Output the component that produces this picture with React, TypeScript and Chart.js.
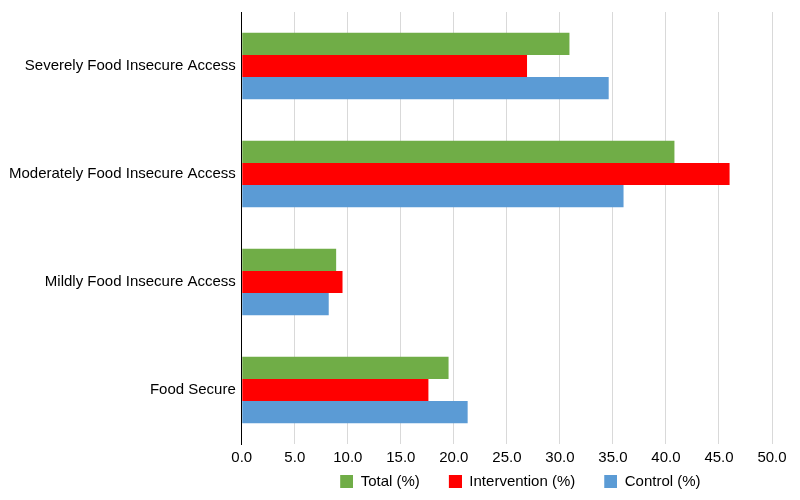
import React, { useEffect, useRef } from "react";
import { Chart, registerables } from "chart.js";

Chart.register(...registerables);

const categories = [
  "Severely Food Insecure Access",
  "Moderately Food Insecure Access",
  "Mildly Food Insecure Access",
  "Food Secure",
];
const totalValues = [30.9, 40.8, 8.9, 19.5];
const interventionValues = [26.9, 46.0, 9.5, 17.6];
const controlValues = [34.6, 36.0, 8.2, 21.3];
const seriesNames = ["Total (%)", "Intervention (%)", "Control (%)"];
const seriesColors = ["#70ad47", "#ff0000", "#5b9bd5"];

const BOX = 13;
const LEAD = 27;

function makeLegendSwatch(color: string) {
  const c = document.createElement("canvas");
  c.width = BOX + LEAD;
  c.height = BOX;
  const ctx = c.getContext("2d")!;
  ctx.fillStyle = color;
  ctx.fillRect(LEAD, 0, BOX, BOX);
  return c;
}

export default function App() {
  const ref = useRef<HTMLCanvasElement | null>(null);
  useEffect(() => {
    if (!ref.current) return;
    const family = "'Liberation Sans', Arial, Helvetica, sans-serif";
    const font = { family, size: 15 };
    const swatches = seriesColors.map(makeLegendSwatch);
    const chart = new Chart(ref.current, {
      type: "bar",
      data: {
        labels: categories,
        datasets: [
          { label: seriesNames[0], data: totalValues, backgroundColor: seriesColors[0] },
          { label: seriesNames[1], data: interventionValues, backgroundColor: seriesColors[1] },
          { label: seriesNames[2], data: controlValues, backgroundColor: seriesColors[2] },
        ],
      },
      options: {
        indexAxis: "y",
        animation: false,
        responsive: false,
        maintainAspectRatio: false,
        layout: { padding: { left: 3, right: 28, top: 10, bottom: 1 } },
        datasets: { bar: { categoryPercentage: 0.615, barPercentage: 1 } },
        scales: {
          x: {
            min: 0,
            max: 50,
            ticks: {
              stepSize: 5,
              color: "#000",
              font,
              padding: 5,
              callback: (v: any) => Number(v).toFixed(1),
            },
            grid: { color: "#d9d9d9", drawTicks: false },
            border: { display: false },
          },
          y: {
            ticks: { color: "#000", font: { family, size: 15, lineHeight: 0.8 }, padding: 6 },
            grid: { display: false, drawTicks: false },
            border: { display: true, color: "#000", width: 1 },
          },
        },
        plugins: {
          legend: {
            position: "bottom",
            fullSize: false,
            maxHeight: 33,
            labels: {
              color: "#000",
              font,
              usePointStyle: true,
              pointStyleWidth: BOX + LEAD,
              boxHeight: BOX,
              padding: 2,
              generateLabels: (ch: any) =>
                (Chart.defaults.plugins.legend.labels.generateLabels as any)(ch).map(
                  (item: any, i: number) => ({ ...item, pointStyle: swatches[i] })
                ),
            },
          },
          tooltip: { enabled: false },
        },
      },
    });
    return () => chart.destroy();
  }, []);
  return (
    <div style={{ position: "fixed", left: 0, top: 0, width: 800, height: 500 }}>
      <canvas ref={ref} width={800} height={500} style={{ width: 800, height: 500 }} />
    </div>
  );
}
